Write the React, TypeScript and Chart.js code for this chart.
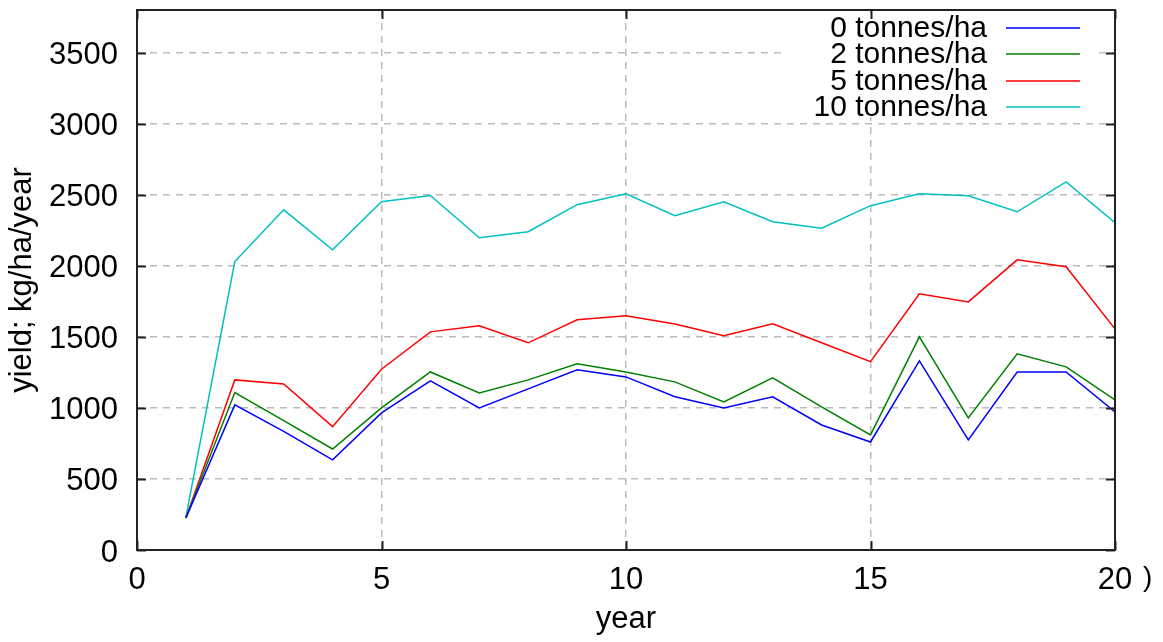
import React, { useEffect, useRef } from "react";
import { Chart, registerables } from "chart.js";

Chart.register(...registerables);

const years = [1, 2, 3, 4, 5, 6, 7, 8, 9, 10, 11, 12, 13, 14, 15, 16, 17, 18, 19, 20];
const yield0 = [225, 1021, 835, 634, 965, 1190, 1000, 1134, 1268, 1218, 1078, 1000, 1078, 880, 760, 1331, 775, 1253, 1253, 972];
const yield2 = [225, 1108, 910, 711, 1000, 1253, 1105, 1197, 1310, 1253, 1183, 1042, 1211, 1007, 810, 1500, 930, 1380, 1289, 1056];
const yield5 = [225, 1197, 1169, 868, 1272, 1535, 1578, 1458, 1620, 1648, 1590, 1507, 1592, 1458, 1325, 1803, 1746, 2042, 1993, 1556];
const yield10 = [232, 2030, 2394, 2113, 2451, 2495, 2197, 2240, 2430, 2507, 2352, 2450, 2310, 2265, 2423, 2507, 2493, 2380, 2590, 2303];

const seriesLabels = ["0 tonnes/ha", "2 tonnes/ha", "5 tonnes/ha", "10 tonnes/ha"];
const seriesColors = ["#0000ff", "#008000", "#ff0000", "#00c0c0"];
const xTicks = [0, 5, 10, 15, 20];
const yTicks = [0, 500, 1000, 1500, 2000, 2500, 3000, 3500];

const FONT = "'Liberation Sans', Arial, sans-serif";

const framePlugin = {
  id: "frameAndLegend",
  beforeDatasetsDraw(chart: any) {
    const ctx = chart.ctx;
    ctx.save();
    ctx.fillStyle = "#ffffff";
    ctx.fillRect(787, 13, 310, 104);
    ctx.restore();
  },
  afterDatasetsDraw(chart: any) {
    const ctx = chart.ctx;
    const { left, right, top, bottom } = chart.chartArea;
    const xs = chart.scales.x;
    const ys = chart.scales.y;
    ctx.save();
    ctx.strokeStyle = "#222222";
    ctx.lineWidth = 2;
    ctx.beginPath();
    const tl = 9;
    yTicks.forEach((v) => {
      const py = Math.round(ys.getPixelForValue(v)) + 0.5;
      ctx.moveTo(left, py);
      ctx.lineTo(left + tl, py);
      ctx.moveTo(right, py);
      ctx.lineTo(right - tl, py);
    });
    xTicks.forEach((v) => {
      const px = Math.round(xs.getPixelForValue(v)) + 0.5;
      ctx.moveTo(px, bottom);
      ctx.lineTo(px, bottom - tl);
      ctx.moveTo(px, top);
      ctx.lineTo(px, top + tl);
    });
    ctx.stroke();
    ctx.strokeRect(left, top, right - left, bottom - top);

    // legend
    ctx.font = `30px ${FONT}`;
    ctx.textAlign = "right";
    ctx.textBaseline = "middle";
    const rowY = [28, 54, 81, 107];
    seriesLabels.forEach((lab, i) => {
      ctx.fillStyle = "#000000";
      ctx.fillText(lab, 987, rowY[i] + 1);
      ctx.strokeStyle = seriesColors[i];
      ctx.lineWidth = 1.5;
      ctx.beginPath();
      ctx.moveTo(1006, rowY[i]);
      ctx.lineTo(1080, rowY[i]);
      ctx.stroke();
    });

    ctx.font = `28px ${FONT}`;
    ctx.textAlign = "left";
    ctx.fillStyle = "#000000";
    ctx.fillText(")", 1143, 578);
    ctx.restore();
  },
};

export default function App() {
  const ref = useRef<HTMLCanvasElement | null>(null);
  useEffect(() => {
    if (!ref.current) return;
    const mk = (data: number[], i: number) => ({
      label: seriesLabels[i],
      data: years.map((y, k) => ({ x: y, y: data[k] })),
      borderColor: seriesColors[i],
      backgroundColor: seriesColors[i],
      borderWidth: 1.5,
      pointRadius: 0,
      tension: 0,
      fill: false,
    });
    const chart = new Chart(ref.current, {
      type: "line",
      data: {
        datasets: [mk(yield0, 0), mk(yield2, 1), mk(yield5, 2), mk(yield10, 3)],
      },
      options: {
        animation: false,
        responsive: false,
        devicePixelRatio: 1,
        layout: { padding: { top: 10, right: 48, left: 0, bottom: 0 } },
        plugins: { legend: { display: false }, tooltip: { enabled: false } },
        scales: {
          x: {
            type: "linear",
            min: 0,
            max: 20,
            afterBuildTicks: (s: any) => {
              s.ticks = xTicks.map((v) => ({ value: v }));
            },
            afterFit: (s: any) => {
              s.height = 92;
              s.paddingLeft = 0;
              s.paddingRight = 0;
              s.paddingTop = 0;
              s.paddingBottom = 0;
            },
            ticks: {
              stepSize: 5,
              color: "#000000",
              font: { family: FONT, size: 31 },
              padding: 12,
              maxRotation: 0,
              callback: (v: any) => String(v),
            },
            grid: { color: "#bbbbbb", lineWidth: 1.5, drawTicks: false },
            border: { display: false, dash: [7, 6] },
            title: {
              display: true,
              text: "year",
              color: "#000000",
              font: { family: FONT, size: 31 },
              padding: { top: 0, bottom: 4 },
            },
          },
          y: {
            type: "linear",
            min: 0,
            max: 3800,
            afterBuildTicks: (s: any) => {
              s.ticks = yTicks.map((v) => ({ value: v }));
            },
            afterFit: (s: any) => {
              s.width = 137;
              s.paddingLeft = 0;
              s.paddingRight = 0;
              s.paddingTop = 0;
              s.paddingBottom = 0;
            },
            ticks: {
              stepSize: 500,
              color: "#000000",
              font: { family: FONT, size: 31 },
              padding: 19,
              labelOffset: 3,
              callback: (v: any) => String(v),
            },
            grid: { color: "#bbbbbb", lineWidth: 1.5, drawTicks: false },
            border: { display: false, dash: [7, 6] },
            title: {
              display: true,
              text: "yield; kg/ha/year",
              color: "#000000",
              font: { family: FONT, size: 31 },
              padding: { top: 4, bottom: 0 },
            },
          },
        },
      },
      plugins: [framePlugin],
    });
    return () => chart.destroy();
  }, []);
  return (
    <div style={{ position: "fixed", left: 0, top: 0, width: 1163, height: 642, background: "#ffffff" }}>
      <canvas ref={ref} width={1163} height={642} style={{ display: "block" }} />
    </div>
  );
}
